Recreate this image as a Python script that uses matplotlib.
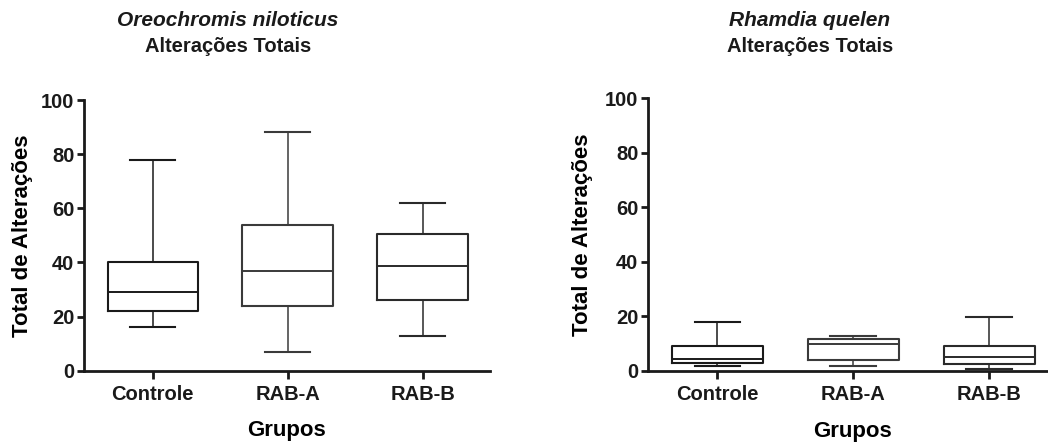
import matplotlib
matplotlib.use("Agg")
import matplotlib.pyplot as plt

plt.rcParams['font.family'] = ['Liberation Sans', 'DejaVu Sans']
plt.rcParams['font.weight'] = 'bold'

groups = ["Controle", "RAB-A", "RAB-B"]

# Oreochromis niloticus: whisker low, Q1, median, Q3, whisker high
oreo_low = [16, 7, 13]
oreo_q1 = [22, 24, 26]
oreo_med = [29, 37, 38.5]
oreo_q3 = [40, 54, 50.5]
oreo_high = [78, 88, 62]

# Rhamdia quelen
rham_low = [2, 2, 0.8]
rham_q1 = [3, 4, 2.4]
rham_med = [4.5, 10, 5.3]
rham_q3 = [9, 11.8, 9]
rham_high = [18, 12.7, 19.8]

yticks = [0, 20, 40, 60, 80, 100]

W, H = 1048, 442
fig = plt.figure(figsize=(W / 100, H / 100), dpi=100)

box_colors = ["#1a1a1a", "#3a3a3a", "#2a2a2a"]


def make_stats(low, q1, med, q3, high):
    return [dict(whislo=a, q1=b, med=c, q3=d, whishi=e, label=g)
            for a, b, c, d, e, g in zip(low, q1, med, q3, high, groups)]


def draw(ax, stats):
    for i, st in enumerate(stats):
        col = box_colors[i]
        ax.bxp([st], positions=[i + 1], widths=0.67, showfliers=False,
               boxprops=dict(color=col, linewidth=1.5),
               medianprops=dict(color=col, linewidth=1.4),
               whiskerprops=dict(color=col, linewidth=1.1),
               capprops=dict(color=col, linewidth=1.5),
               manage_ticks=False)
    ax.set_xlim(0.49, 3.5)
    ax.set_ylim(0, 100)
    ax.set_xticks([1, 2, 3])
    ax.set_xticklabels(groups, fontsize=14.5, fontweight='bold')
    ax.set_yticks(yticks)
    ax.set_yticklabels([str(v) for v in yticks], fontsize=14.5, fontweight='bold')
    for s in ['top', 'right']:
        ax.spines[s].set_visible(False)
    for s in ['left', 'bottom']:
        ax.spines[s].set_linewidth(2.0)
        ax.spines[s].set_color('#1a1a1a')
    ax.tick_params(axis='y', length=5, width=2, pad=2, colors='#1a1a1a')
    ax.tick_params(axis='x', length=6, width=2, pad=4, colors='#1a1a1a')
    ax.set_xlabel("Grupos", fontsize=16, fontweight='bold', labelpad=12)
    ax.set_ylabel("Total de Alterações", fontsize=16, fontweight='bold')


ax1 = fig.add_axes([84 / W, 71.3 / H, (490 - 84) / W, (370.7 - 100) / H])
draw(ax1, make_stats(oreo_low, oreo_q1, oreo_med, oreo_q3, oreo_high))
ax1.yaxis.set_label_coords((33 - 84) / (490 - 84), 0.5)

ax2 = fig.add_axes([648 / W, 71 / H, (1057 - 648) / W, (371 - 98) / H])
draw(ax2, make_stats(rham_low, rham_q1, rham_med, rham_q3, rham_high))
ax2.yaxis.set_label_coords((593 - 648) / (1057 - 648), 0.5)

fig.text(228 / W, 1 - 20 / H, "Oreochromis niloticus", ha='center', va='center',
         fontsize=15, fontweight='bold', style='italic', color='#1a1a1a')
fig.text(228 / W, 1 - 46 / H, "Alterações Totais", ha='center', va='center',
         fontsize=14.5, fontweight='bold', color='#1a1a1a')
fig.text(810 / W, 1 - 20 / H, "Rhamdia quelen", ha='center', va='center',
         fontsize=15, fontweight='bold', style='italic', color='#1a1a1a')
fig.text(810 / W, 1 - 46 / H, "Alterações Totais", ha='center', va='center',
         fontsize=14.5, fontweight='bold', color='#1a1a1a')

fig.savefig("out.png", dpi=100)
